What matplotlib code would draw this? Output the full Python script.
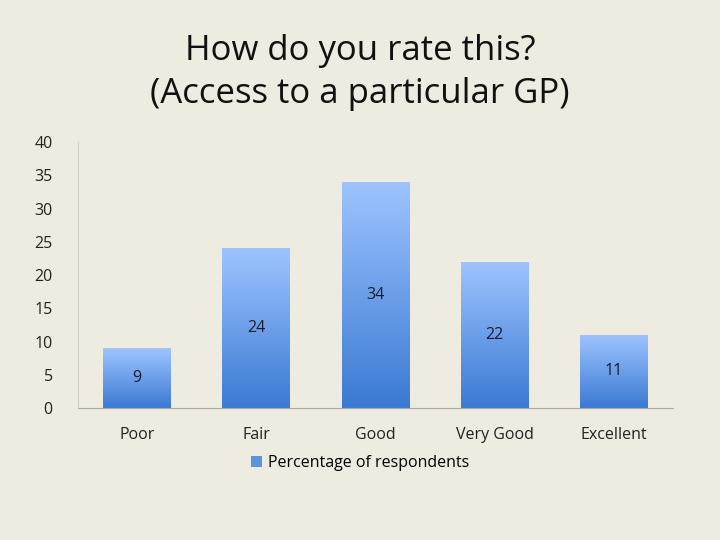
import matplotlib
matplotlib.use('Agg')
import matplotlib.pyplot as plt
import numpy as np
from matplotlib.colors import LinearSegmentedColormap
from matplotlib.patches import Patch

categories = ['Poor', 'Fair', 'Good', 'Very Good', 'Excellent']
values = [9, 24, 34, 22, 11]
yticks = [0, 5, 10, 15, 20, 25, 30, 35, 40]

bg = '#EEEBE1'
plt.rcParams['font.family'] = ['Open Sans', 'DejaVu Sans']

fig = plt.figure(figsize=(7.2, 5.4), dpi=100, facecolor=bg)
ax = fig.add_axes([0.108, 0.2444, 0.827, 0.4926])
ax.set_facecolor(bg)

x = np.arange(len(categories))
bars = ax.bar(x, values, width=0.57, color='none', edgecolor='none', zorder=2)

# vertical gradient inside each bar
cmap = LinearSegmentedColormap.from_list('bar', ['#3A7AD3', '#9EC4FF'])
grad = np.linspace(0, 1, 256).reshape(-1, 1)
for b in bars:
    x0, y0 = b.get_x(), b.get_y()
    w, h = b.get_width(), b.get_height()
    im = ax.imshow(grad, cmap=cmap, aspect='auto', origin='lower',
                   extent=[x0, x0 + w, y0, y0 + h], zorder=2)
    im.set_clip_path(b)
    ax.text(x0 + w / 2, h / 2, str(int(h)), ha='center', va='center',
            fontsize=11.5, color='#1a1a2e', zorder=3)

ax.set_xlim(-0.5, len(categories) - 0.5)
ax.set_ylim(0, 40)
ax.set_yticks(yticks)
ax.set_xticks(x)
ax.set_xticklabels(categories)
ax.tick_params(length=0, labelsize=11.5, colors='#222222')
ax.tick_params(axis='x', pad=14)
ax.tick_params(axis='y', pad=18)
for s in ['top', 'right']:
    ax.spines[s].set_visible(False)
ax.spines['left'].set_color('#D0CEC8')
ax.spines['bottom'].set_color('#A8A8A8')

fig.text(0.5, 0.866, 'How do you rate this?\n(Access to a particular GP)',
         ha='center', va='center', fontsize=25, color='#111111',
         linespacing=1.35)

fig.legend(handles=[Patch(facecolor='#5B93E0', edgecolor='none')],
           labels=['Percentage of respondents'], loc='center',
           bbox_to_anchor=(0.5, 0.143), frameon=False, fontsize=11.5,
           handlelength=0.7, handleheight=0.7, handletextpad=0.4)

fig.savefig('out.png', dpi=100, facecolor=bg)
